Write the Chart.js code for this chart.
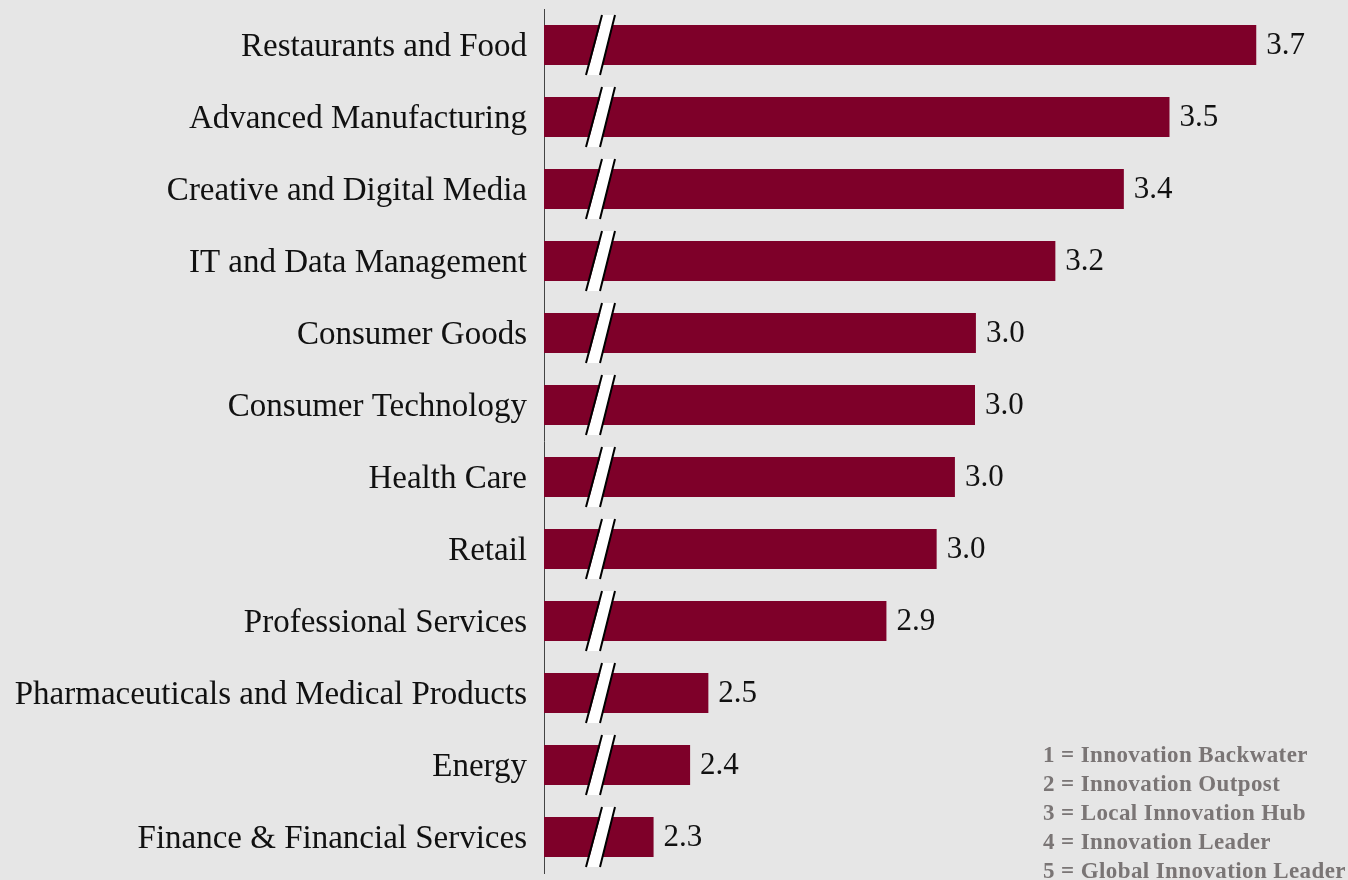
<!DOCTYPE html>
<html>
<head>
<meta charset="utf-8">
<script src="https://cdn.jsdelivr.net/npm/chart.js@4"></script>
<style>
  html, body { margin: 0; padding: 0; background: #e6e6e6; }
  #wrap { position: relative; width: 1348px; height: 880px; }
</style>
</head>
<body>
<div id="wrap"><canvas id="chart"></canvas></div>
<script>
// Industry innovation scores (1–5 scale), sorted high to low
const industries = [
  'Restaurants and Food',
  'Advanced Manufacturing',
  'Creative and Digital Media',
  'IT and Data Management',
  'Consumer Goods',
  'Consumer Technology',
  'Health Care',
  'Retail',
  'Professional Services',
  'Pharmaceuticals and Medical Products',
  'Energy',
  'Finance & Financial Services'
];
const scores = [3.66, 3.47, 3.37, 3.22, 3.046, 3.044, 3.00, 2.96, 2.85, 2.46, 2.42, 2.34];

// Score key shown in the lower right corner
const scaleKey = [
  '1 = Innovation Backwater',
  '2 = Innovation Outpost',
  '3 = Local Innovation Hub',
  '4 = Innovation Leader',
  '5 = Global Innovation Leader'
];

const SERIF = '"Liberation Serif", "DejaVu Serif", serif';
const BAR_COLOR = '#7e0029';

// Value printed just past the end of each bar
const valueLabels = {
  id: 'valueLabels',
  afterDatasetsDraw(chart) {
    const ctx = chart.ctx;
    const meta = chart.getDatasetMeta(0);
    ctx.save();
    ctx.font = '31px ' + SERIF;
    ctx.fillStyle = '#111';
    ctx.textAlign = 'left';
    ctx.textBaseline = 'middle';
    meta.data.forEach((bar, i) => {
      const v = chart.data.datasets[0].data[i];
      ctx.fillText(v.toFixed(1), bar.x + 10, bar.y + 1);
    });
    ctx.restore();
  }
};

// Axis-break slash across every bar, since the value axis does not start at zero
const axisBreaks = {
  id: 'axisBreaks',
  afterDatasetsDraw(chart) {
    const ctx = chart.ctx;
    const left = chart.chartArea.left;
    const meta = chart.getDatasetMeta(0);
    ctx.save();
    meta.data.forEach(bar => {
      const half = bar.height / 2 + 10;
      const yt = bar.y - half, yb = bar.y + half;
      const tl = left + 59, tr = left + 71, bl = left + 43, br = left + 56;
      ctx.beginPath();
      ctx.moveTo(tl, yt);
      ctx.lineTo(tr, yt);
      ctx.lineTo(br, yb);
      ctx.lineTo(bl, yb);
      ctx.closePath();
      ctx.fillStyle = '#ffffff';
      ctx.fill();
      ctx.strokeStyle = '#000';
      ctx.lineWidth = 2;
      ctx.beginPath();
      ctx.moveTo(tl - 1, yt); ctx.lineTo(bl - 1, yb);
      ctx.moveTo(tr, yt); ctx.lineTo(br, yb);
      ctx.stroke();
    });
    ctx.restore();
  }
};

// Score key text
const keyText = {
  id: 'keyText',
  afterDraw(chart) {
    const ctx = chart.ctx;
    ctx.save();
    ctx.font = 'bold 23px ' + SERIF;
    if ('letterSpacing' in ctx) ctx.letterSpacing = '0.4px';
    ctx.fillStyle = '#7a7575';
    ctx.textAlign = 'left';
    ctx.textBaseline = 'middle';
    scaleKey.forEach((t, i) => ctx.fillText(t, 1043, 756 + i * 29));
    ctx.restore();
  }
};

new Chart(document.getElementById('chart'), {
  type: 'bar',
  data: {
    labels: industries,
    datasets: [{
      data: scores,
      backgroundColor: BAR_COLOR,
      borderWidth: 0,
      barPercentage: 40 / 72,
      categoryPercentage: 1
    }]
  },
  options: {
    indexAxis: 'y',
    responsive: true,
    maintainAspectRatio: false,
    animation: false,
    layout: { padding: { top: 9, bottom: 7, left: 0, right: 5 } },
    plugins: {
      legend: { display: false },
      tooltip: { enabled: false },
      title: { display: false }
    },
    scales: {
      x: {
        display: false,
        min: 2.1,
        max: 3.85
      },
      y: {
        grid: { display: false, drawTicks: false },
        border: { display: true, color: '#444', width: 1 },
        ticks: {
          color: '#111',
          font: { family: SERIF, size: 33 },
          padding: 17,
          labelOffset: 2
        },
        afterFit(scale) {
          scale.width = 544;
          scale.paddingTop = 0;
          scale.paddingBottom = 0;
        }
      }
    }
  },
  plugins: [axisBreaks, valueLabels, keyText]
});
</script>
</body>
</html>
